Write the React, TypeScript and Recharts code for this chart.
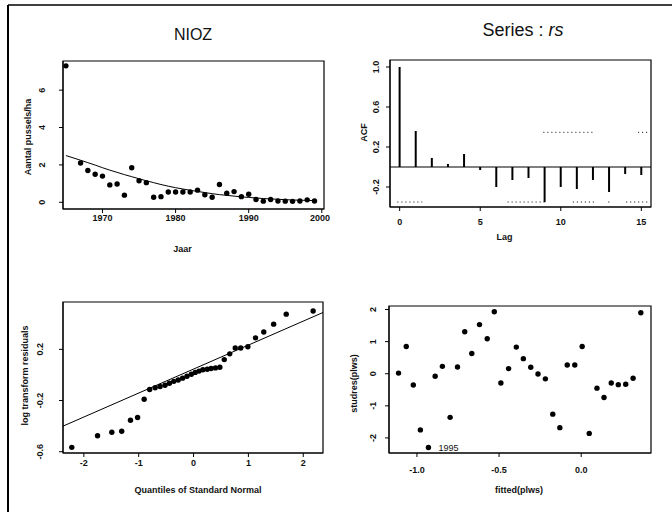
import React from 'react';
import {
  ComposedChart,
  Scatter,
  Line,
  Bar,
  XAxis,
  YAxis,
  ReferenceLine,
  ReferenceArea,
  Label,
  LabelList,
} from 'recharts';

const FONT = '"Liberation Sans", Arial, Helvetica, sans-serif';

// ---------- Panel 1: NIOZ ----------
const years = [1965, 1967, 1968, 1969, 1970, 1971, 1972, 1973, 1974, 1975, 1976, 1977, 1978, 1979, 1980, 1981, 1982,
  1983, 1984, 1985, 1986, 1987, 1988, 1989, 1990, 1991, 1992, 1993, 1994, 1995, 1996, 1997, 1998, 1999];
const counts = [7.3, 2.1, 1.7, 1.5, 1.4, 0.93, 0.98, 0.38, 1.85, 1.15, 1.05, 0.27, 0.3, 0.55, 0.55, 0.55, 0.55,
  0.65, 0.4, 0.27, 0.95, 0.48, 0.57, 0.3, 0.43, 0.15, 0.06, 0.15, 0.07, 0.06, 0.05, 0.07, 0.13, 0.07];
const fittedCurve = [2.5, 2.25, 2.12, 1.99, 1.85, 1.72, 1.6, 1.48, 1.37, 1.26, 1.15, 1.05, 0.95, 0.86, 0.78, 0.71, 0.64,
  0.58, 0.52, 0.46, 0.41, 0.37, 0.33, 0.29, 0.26, 0.23, 0.2, 0.18, 0.16, 0.14, 0.12, 0.11, 0.1, 0.09];
const p1XTicks = [1970, 1980, 1990, 2000];
const p1YTicks = [0, 2, 4, 6];

// ---------- Panel 2: Series : rs (ACF) ----------
const lags = [0, 1, 2, 3, 4, 5, 6, 7, 8, 9, 10, 11, 12, 13, 14, 15];
const acfValues = [1.0, 0.36, 0.09, 0.03, 0.13, -0.03, -0.2, -0.13, -0.11, -0.35, -0.2, -0.22, -0.13, -0.25, -0.07, -0.08];
const ciUpper = 0.347;
const ciLower = -0.35;
const ciUpperSpans = [[8.92, 12.0], [14.8, 15.5]];
const ciLowerSpans = [[-0.14, 1.4], [6.7, 9.0], [10.75, 12.1], [12.95, 13.05], [14.06, 15.55]];
const p2XTicks = [0, 5, 10, 15];
const p2YTicks = [-0.2, 0.2, 0.6, 1.0];

// ---------- Panel 3: normal QQ plot ----------
const normalQuantiles = [-2.22, -1.75, -1.49, -1.31, -1.15, -1.02, -0.9, -0.8, -0.7, -0.61, -0.52, -0.44, -0.36, -0.28,
  -0.2, -0.12, -0.04, 0.03, 0.1, 0.17, 0.25, 0.32, 0.4, 0.48, 0.56, 0.66, 0.76, 0.86, 0.99, 1.13, 1.28, 1.46, 1.69, 2.18];
const logResiduals = [-0.566, -0.475, -0.448, -0.44, -0.354, -0.333, -0.19, -0.114, -0.1, -0.09, -0.08, -0.065, -0.05,
  -0.04, -0.025, -0.01, 0.005, 0.02, 0.03, 0.04, 0.045, 0.05, 0.055, 0.06, 0.12, 0.165, 0.21, 0.21, 0.22, 0.29, 0.336,
  0.397, 0.475, 0.5];
const qqLineEnds = [{ q: -2.38, r: -0.4 }, { q: 2.36, r: 0.488 }];
const p3XTicks = [-2, -1, 0, 1, 2];
const p3YTicks = [-0.6, -0.2, 0.2];

// ---------- Panel 4: studres vs fitted ----------
const fittedPlws = [-1.112, -1.065, -1.022, -0.979, -0.93, -0.889, -0.845, -0.798, -0.753, -0.709, -0.666, -0.619,
  -0.572, -0.529, -0.489, -0.442, -0.395, -0.352, -0.307, -0.263, -0.218, -0.173, -0.13, -0.085, -0.039, 0.006, 0.049,
  0.096, 0.139, 0.183, 0.226, 0.271, 0.316, 0.363];
const studres = [0.02, 0.85, -0.35, -1.75, -2.3, -0.08, 0.23, -1.36, 0.21, 1.31, 0.63, 1.53, 1.09, 1.93, -0.29, 0.16,
  0.83, 0.47, 0.2, -0.01, -0.16, -1.26, -1.68, 0.27, 0.27, 0.85, -1.86, -0.45, -0.74, -0.29, -0.34, -0.33, -0.14, 1.9];
const pointLabels = ['', '', '', '', '1995', '', '', '', '', '', '', '', '', '', '', '', '', '', '', '', '', '', '', '',
  '', '', '', '', '', '', '', '', '', ''];
const p4XTicks = [-1, -0.5, 0];
const p4YTicks = [-2, -1, 0, 1, 2];

// ---------- derived tables ----------
const p1Data = years.map((y, i) => ({ year: y, count: counts[i], fit: fittedCurve[i] }));
const p2Data = lags.map((l, i) => ({ lag: l, acf: acfValues[i] }));
const p3Data = normalQuantiles.map((q, i) => ({ q, r: logResiduals[i] }));
const p4Data = fittedPlws.map((x, i) => ({ x, s: studres[i], lbl: pointLabels[i] }));

const TICK_SIZE = 4;
const tickStyle = { fontFamily: FONT, fontSize: 9, fontWeight: 700, fill: '#111' };
const titleStyle = { fontFamily: FONT, fontSize: 9, fontWeight: 700, fill: '#111' };

const makeYTick = (offset: number, fmt: (v: number) => string) => (props: any) => {
  const { x, y, payload } = props;
  const cx = x + TICK_SIZE - offset;
  return (
    <text x={cx} y={y} transform={`rotate(-90, ${cx}, ${y})`} textAnchor="middle" dy="0.35em" style={tickStyle}>
      {fmt(payload.value)}
    </text>
  );
};

const makeXTick = (offset: number, fmt: (v: number) => string) => (props: any) => {
  const { x, y, payload } = props;
  const cy = y - TICK_SIZE + offset;
  return (
    <text x={x} y={cy} textAnchor="middle" dy="0.35em" style={tickStyle}>
      {fmt(payload.value)}
    </text>
  );
};

const xTitle = (text: string, dx: number, dy: number) => (
  <Label
    content={(p: any) => {
      const vb = p.viewBox || { x: 0, y: 0, width: 0, height: 0 };
      return (
        <text x={vb.x + vb.width / 2 + dx} y={vb.y + dy} textAnchor="middle" dy="0.35em" style={titleStyle}>
          {text}
        </text>
      );
    }}
  />
);

const yTitle = (text: string, cxFromLeft: number, dy: number) => (
  <Label
    content={(p: any) => {
      const vb = p.viewBox || { x: 0, y: 0, width: 0, height: 0 };
      const cx = vb.x + cxFromLeft;
      const cy = vb.y + vb.height / 2 + dy;
      return (
        <text x={cx} y={cy} transform={`rotate(-90, ${cx}, ${cy})`} textAnchor="middle" dy="0.35em" style={titleStyle}>
          {text}
        </text>
      );
    }}
  />
);

const dot = (props: any) => <circle cx={props.cx} cy={props.cy} r={2.7} fill="#000" />;

const f0 = (v: number) => String(v);
const f1 = (v: number) => v.toFixed(1);

const Box = ({ x1, x2, y1, y2 }: any) => null;

export default function App() {
  const panel = (left: number, top: number, w: number, h: number, child: React.ReactNode) => (
    <div style={{ position: 'absolute', left, top, width: w, height: h }}>{child}</div>
  );

  const P1_X: [number, number] = [1964.6, 2000.3];
  const P1_Y: [number, number] = [-0.36, 7.56];
  const P2_X: [number, number] = [-0.6, 15.6];
  const P2_Y: [number, number] = [-0.4, 1.07];
  const P3_X: [number, number] = [-2.38, 2.36];
  const P3_Y: [number, number] = [-0.61, 0.57];
  const P4_X: [number, number] = [-1.17, 0.425];
  const P4_Y: [number, number] = [-2.47, 2.11];

  return (
    <div style={{ position: 'absolute', left: 0, top: 0, width: 672, height: 515, background: '#fff', overflow: 'hidden' }}>
      {panel(0, 0, 336, 260,
        <ComposedChart width={336} height={260} data={p1Data} margin={{ top: 61, right: 12, bottom: 0, left: 0 }}>
          <XAxis type="number" dataKey="year" domain={P1_X} ticks={p1XTicks} allowDataOverflow height={51}
            tickSize={TICK_SIZE} tickMargin={0} stroke="#000" tick={makeXTick(9, f0)}>
            {xTitle('Jaar', -11, 40)}
          </XAxis>
          <YAxis type="number" domain={P1_Y} ticks={p1YTicks} allowDataOverflow width={63}
            tickSize={TICK_SIZE} tickMargin={0} stroke="#000" tick={makeYTick(21, f0)}>
            {yTitle('Aantal pussels/ha', 28, 2)}
          </YAxis>
          <ReferenceArea x1={P1_X[0]} x2={P1_X[1]} y1={P1_Y[0]} y2={P1_Y[1]} fill="none" fillOpacity={0}
            stroke="#000" strokeWidth={1.2} ifOverflow="visible" />
          <Line dataKey="fit" type="monotone" stroke="#000" strokeWidth={1} dot={false} isAnimationActive={false} />
          <Scatter dataKey="count" shape={dot} isAnimationActive={false} />
        </ComposedChart>
      )}

      {panel(336, 0, 336, 260,
        <ComposedChart width={336} height={260} data={p2Data} margin={{ top: 60, right: 21, bottom: 0, left: 0 }}>
          <XAxis type="number" dataKey="lag" domain={P2_X} ticks={p2XTicks} allowDataOverflow height={53}
            tickSize={TICK_SIZE} tickMargin={0} stroke="#000" tick={makeXTick(14.5, f0)}>
            {xTitle('Lag', -16, 30)}
          </XAxis>
          <YAxis type="number" domain={P2_Y} ticks={p2YTicks} allowDataOverflow width={54}
            tickSize={TICK_SIZE} tickMargin={0} stroke="#000" tick={makeYTick(14, f1)}>
            {yTitle('ACF', 28, -1)}
          </YAxis>
          <ReferenceArea x1={P2_X[0]} x2={P2_X[1]} y1={P2_Y[0]} y2={P2_Y[1]} fill="none" fillOpacity={0}
            stroke="#000" strokeWidth={1.2} ifOverflow="visible" />
          <ReferenceLine y={0} stroke="#000" strokeWidth={1.2} />
          {ciUpperSpans.map((s, i) => (
            <ReferenceLine key={'u' + i} segment={[{ x: s[0], y: ciUpper }, { x: s[1], y: ciUpper }]}
              stroke="#000" strokeWidth={1} strokeDasharray="1 3" />
          ))}
          {ciLowerSpans.map((s, i) => (
            <ReferenceLine key={'l' + i} segment={[{ x: s[0], y: ciLower }, { x: s[1], y: ciLower }]}
              stroke="#000" strokeWidth={1} strokeDasharray="1 3" />
          ))}
          <Bar dataKey="acf" barSize={2} fill="#000" isAnimationActive={false} />
        </ComposedChart>
      )}

      {panel(0, 260, 336, 255,
        <ComposedChart width={336} height={255} data={p3Data} margin={{ top: 42, right: 13, bottom: 0, left: 0 }}>
          <XAxis type="number" dataKey="q" domain={P3_X} ticks={p3XTicks} allowDataOverflow height={62}
            tickSize={TICK_SIZE} tickMargin={0} stroke="#000" tick={makeXTick(10, f0)}>
            {xTitle('Quantiles of Standard Normal', 5, 37)}
          </XAxis>
          <YAxis type="number" domain={P3_Y} ticks={p3YTicks} allowDataOverflow width={63}
            tickSize={TICK_SIZE} tickMargin={0} stroke="#000" tick={makeYTick(23, f1)}>
            {yTitle('log transform residuals', 25, -2)}
          </YAxis>
          <ReferenceArea x1={P3_X[0]} x2={P3_X[1]} y1={P3_Y[0]} y2={P3_Y[1]} fill="none" fillOpacity={0}
            stroke="#000" strokeWidth={1.2} ifOverflow="visible" />
          <ReferenceLine segment={[{ x: qqLineEnds[0].q, y: qqLineEnds[0].r }, { x: qqLineEnds[1].q, y: qqLineEnds[1].r }]}
            stroke="#000" strokeWidth={1} />
          <Scatter dataKey="r" shape={dot} isAnimationActive={false} />
        </ComposedChart>
      )}

      {panel(336, 260, 336, 255,
        <ComposedChart width={336} height={255} data={p4Data} margin={{ top: 46, right: 21, bottom: 0, left: 0 }}>
          <XAxis type="number" dataKey="x" domain={P4_X} ticks={p4XTicks} allowDataOverflow height={62}
            tickSize={TICK_SIZE} tickMargin={0} stroke="#000" tick={makeXTick(17, f1)}>
            {xTitle('fitted(plws)', -1, 37)}
          </XAxis>
          <YAxis type="number" domain={P4_Y} ticks={p4YTicks} allowDataOverflow width={53}
            tickSize={TICK_SIZE} tickMargin={0} stroke="#000" tick={makeYTick(16, f0)}>
            {yTitle('studres(plws)', 18, 4)}
          </YAxis>
          <ReferenceArea x1={P4_X[0]} x2={P4_X[1]} y1={P4_Y[0]} y2={P4_Y[1]} fill="none" fillOpacity={0}
            stroke="#000" strokeWidth={1.2} ifOverflow="visible" />
          <Scatter dataKey="s" shape={dot} isAnimationActive={false}>
            <LabelList dataKey="lbl" content={(p: any) =>
              p.value ? (
                <text x={p.x + (p.width || 0) / 2 + 10} y={p.y + (p.height || 0) / 2} dy="0.35em" textAnchor="start"
                  style={{ fontFamily: FONT, fontSize: 9, fill: '#111' }}>{p.value}</text>
              ) : null
            } />
          </Scatter>
        </ComposedChart>
      )}

      <svg width={672} height={515} style={{ position: 'absolute', left: 0, top: 0, pointerEvents: 'none' }}>
        <line x1={8} y1={5} x2={672} y2={5} stroke="#000" strokeWidth={1.5} />
        <line x1={8} y1={5} x2={8} y2={512} stroke="#000" strokeWidth={2} />
        <text x={193} y={40} textAnchor="middle" style={{ fontFamily: FONT, fontSize: 16, fill: '#111' }}>NIOZ</text>
        <text x={523} y={36} textAnchor="middle" style={{ fontFamily: FONT, fontSize: 18, fill: '#111' }}>
          Series : <tspan fontStyle="italic">rs</tspan>
        </text>
      </svg>
    </div>
  );
}
